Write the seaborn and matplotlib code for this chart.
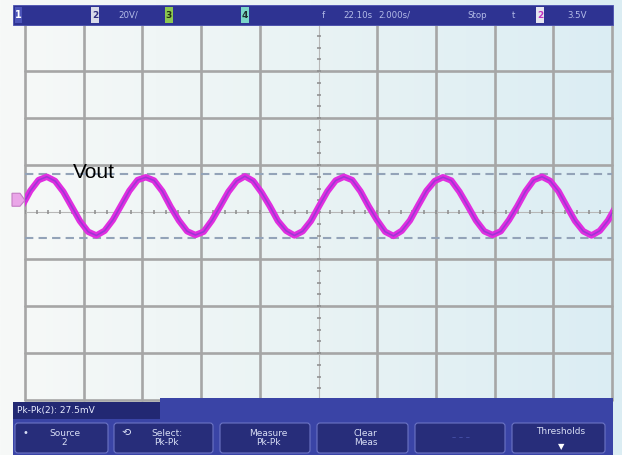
import numpy as np
import pandas as pd
import matplotlib
matplotlib.use("Agg")
import matplotlib.pyplot as plt
import seaborn as sns
from matplotlib.colors import LinearSegmentedColormap
from matplotlib.patches import Rectangle, FancyBboxPatch, Polygon

# channel 2 trace (divisions), one sample every 1/12 period
t_start = -5.05
t_step = 0.1406
vout = [
    0.13, 0.45, 0.68,
    0.75, 0.66, 0.43, 0.12, -0.19, -0.42, -0.50, -0.40, -0.17, 0.14, 0.45, 0.68,
    0.74, 0.67, 0.44, 0.11, -0.18, -0.41, -0.49, -0.42, -0.18, 0.12, 0.43, 0.66,
    0.76, 0.66, 0.42, 0.13, -0.19, -0.40, -0.50, -0.41, -0.19, 0.13, 0.44, 0.67,
    0.75, 0.68, 0.44, 0.12, -0.17, -0.42, -0.51, -0.40, -0.18, 0.14, 0.45, 0.66,
    0.74, 0.67, 0.43, 0.13, -0.18, -0.41, -0.49, -0.41, -0.17, 0.12, 0.44, 0.68,
    0.75, 0.66, 0.44, 0.12, -0.19, -0.41, -0.50, -0.40, -0.18, 0.13,
]
cursor_levels = [0.81, -0.55]
ground_level = 0.25

top_labels = [(118, "20V/"), (322, "f"), (343, "22.10s"), (378, "2.000s/"),
              (467, "Stop"), (512, "t"), (567, "3.5V")]
buttons = [(13, 110, "Source\n2"), (112, 215, "Select:\nPk-Pk"),
           (218, 312, "Measure\nPk-Pk"), (315, 410, "Clear\nMeas"),
           (413, 507, ""), (510, 607, "")]
meas_text = "Pk-Pk(2): 27.5mV"

sns.set_style("white")
plt.rcParams['font.family'] = ['DejaVu Sans']

fig = plt.figure(figsize=(6.22, 4.55), dpi=100)

# screen background
bg = fig.add_axes([0, 0, 1, 1], zorder=-2)
cmap = LinearSegmentedColormap.from_list("scr", ["#f7f9f8", "#e9f3f4", "#dbedf3"])
bg.imshow(np.linspace(0, 1, 256)[None, :], aspect="auto", cmap=cmap, extent=[0, 1, 0, 1])
bg.axis("off")

# graticule
ax = fig.add_axes([25/622, 55/455, 587/622, 376/455], zorder=1)
ax.set_facecolor("none")
grid_col = "#a6a6a6"
for k in range(-5, 6):
    if k != 0:
        ax.axvline(k, color=grid_col, lw=1.9, clip_on=False, zorder=1)
for k in range(-4, 5):
    if k != 0:
        ax.axhline(k, color=grid_col, lw=1.9, clip_on=False, zorder=1)
ax.axhline(0, color="#b8b8b8", lw=0.8, zorder=1)
ax.axvline(0, color="#b8b8b8", lw=0.8, zorder=1)
xs = np.arange(-5, 5.01, 0.2)
ys = np.arange(-4, 4.01, 0.25)
ax.plot(xs, np.zeros_like(xs), ls="none", marker="|", ms=3.5, mew=1.1, color="#8c8c8c", zorder=2)
ax.plot(np.zeros_like(ys), ys, ls="none", marker="_", ms=3.5, mew=1.1, color="#8c8c8c", zorder=2)

for lvl in cursor_levels:
    ax.axhline(lvl, color="#93a3b8", lw=1.5, dashes=(4, 2.5), zorder=2)

df = pd.DataFrame({"t": t_start + t_step*np.arange(len(vout)), "v": vout})
sns.lineplot(data=df, x="t", y="v", ax=ax, color="#e02ee0", lw=4.6, sort=False, zorder=4)
sns.lineplot(data=df, x="t", y="v", ax=ax, color="#8a3ad0", lw=1.2, alpha=0.75, sort=False, zorder=5)

ax.set_xlim(-5, 5)
ax.set_ylim(-4, 4)
ax.set_xlabel("")
ax.set_ylabel("")
ax.set_xticks([])
ax.set_yticks([])
for s in ax.spines.values():
    s.set_visible(False)

# scope UI overlay in pixel units
ui = fig.add_axes([0, 0, 1, 1], zorder=3)
ui.set_xlim(0, 622)
ui.set_ylim(455, 0)
ui.axis("off")
ui.patch.set_visible(False)

# ground marker for channel 2
gy = 212 - ground_level*47
ui.add_patch(Polygon([(12, gy-7), (20, gy-7), (25, gy), (20, gy+6), (12, gy+6)],
                     closed=True, fc="#eaa6e8", ec="#c47cc4", lw=0.8))

ui.text(73, 178, "Vout", fontsize=15, family=["Liberation Sans", "DejaVu Sans"],
        color="black", va="baseline", ha="left")

# status bar on top
ui.add_patch(Rectangle((13, 5), 600, 20, fc="#2e3392", ec="#4a50b0", lw=0.6))
ui.add_patch(Rectangle((15, 7), 7, 16, fc="#4c54b8", ec="none"))
ui.text(18.5, 15, "1", fontsize=7, color="white", ha="center", va="center", weight="bold")
for x0, fc, lab, tc in [(91, "#d8dbe9", "2", "#303080"), (165, "#8cc850", "3", "#203010"),
                        (241, "#7ad6c8", "4", "#203030"), (536, "#e6e6f0", "2", "#c030c0")]:
    ui.add_patch(Rectangle((x0, 7), 8, 16, fc=fc, ec="none"))
    ui.text(x0 + 4, 15, lab, fontsize=6.5, color=tc, ha="center", va="center", weight="bold")
for x0, lab in top_labels:
    ui.text(x0, 15, lab, fontsize=6.2, color="#b4bce8", ha="left", va="center")

# softkey menu at the bottom
ui.add_patch(Rectangle((13, 402), 600, 53, fc="#3a44a6", ec="none"))
ui.add_patch(Rectangle((160, 398), 453, 57, fc="#3a44a6", ec="none"))
ui.add_patch(Rectangle((13, 402), 147, 17, fc="#222873", ec="none"))
ui.text(17, 410.5, meas_text, fontsize=6.5, color="#e8ecff", ha="left", va="center")
for x0, x1, lab in buttons:
    ui.add_patch(FancyBboxPatch((x0 + 2, 423), x1 - x0 - 4, 30,
                                boxstyle="round,pad=0,rounding_size=3",
                                fc="#272d7a", ec="#6c74c4", lw=0.8))
    if lab:
        ui.text((x0 + x1)/2 + 3, 438, lab, fontsize=6.5, color="#d8def5",
                ha="center", va="center", linespacing=1.1)
ui.text(25, 433, "•", fontsize=7, color="#d8def5", ha="center", va="center")
ui.text(126, 433, "⟲", fontsize=8, color="#d8def5", ha="center", va="center")
ui.text(461, 438, "– – –", fontsize=6, color="#4c56b0", ha="center", va="center")
ui.text(561, 431, "Thresholds", fontsize=6.5, color="#d8def5", ha="center", va="center")
ui.text(561, 447, "▼", fontsize=6, color="white", ha="center", va="center")

fig.savefig("out.png", dpi=100)
